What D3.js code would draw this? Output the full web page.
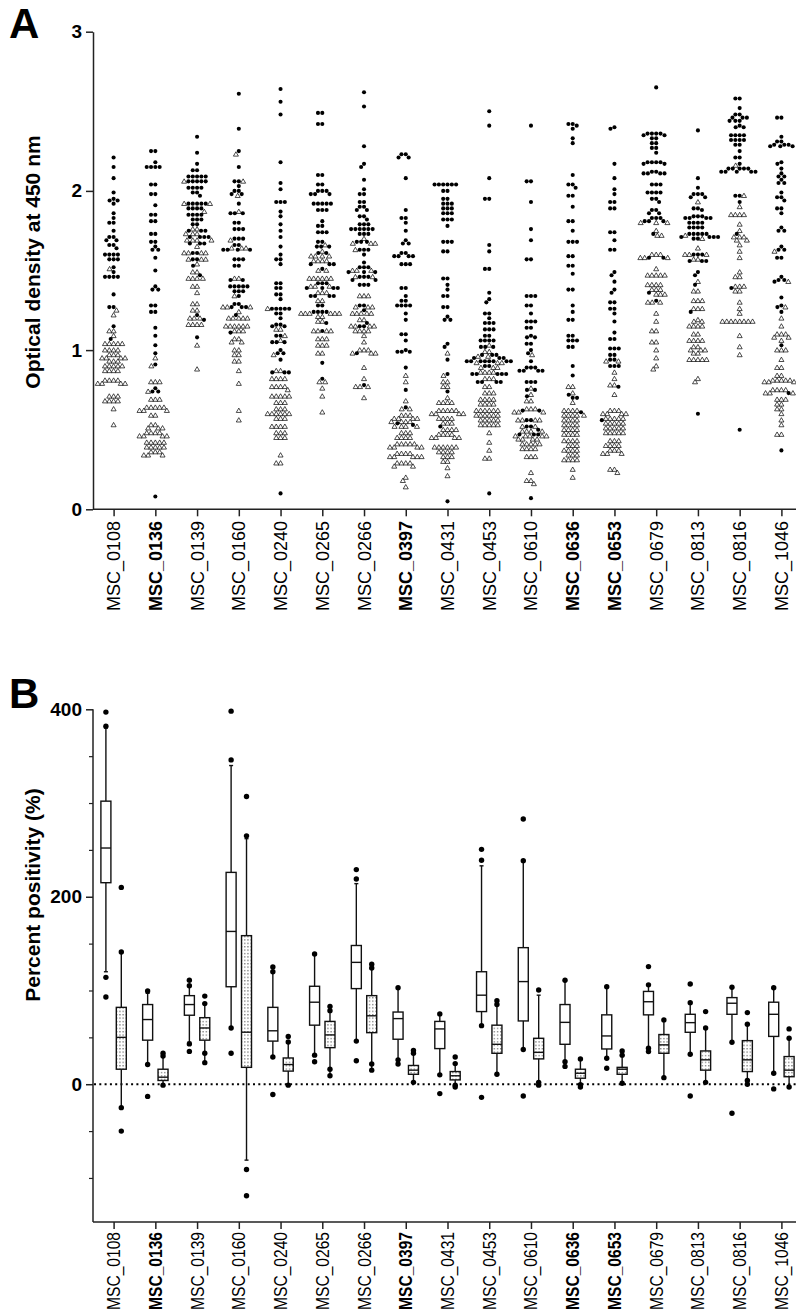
<!DOCTYPE html>
<html><head><meta charset="utf-8">
<script src="https://cdn.jsdelivr.net/npm/d3@7"></script>
<style>body{margin:0;background:#fff} svg{display:block} text{font-family:"Liberation Sans",Arial,sans-serif;fill:#000}</style>
</head><body><svg id="c" width="796" height="1313"></svg>
<script>
const categories = ["MSC_0108","MSC_0136","MSC_0139","MSC_0160","MSC_0240","MSC_0265","MSC_0266","MSC_0397","MSC_0431","MSC_0453","MSC_0610","MSC_0636","MSC_0653","MSC_0679","MSC_0813","MSC_0816","MSC_1046"];
const boldCategories = ["MSC_0136","MSC_0397","MSC_0636","MSC_0653"];

// Panel A: optical density, filled circles
const circleValues = [
 [2.21,2.15,2.08,1.99,1.95,1.94,1.94,1.92,1.86,1.83,1.80,1.80,1.75,1.71,1.71,1.69,1.69,1.66,1.66,1.64,1.60,1.60,1.60,1.60,1.57,1.57,1.57,1.52,1.49,1.46,1.46,1.46,1.46,1.35,1.27,1.27,1.15,1.07],
 [2.25,2.25,2.18,2.15,2.15,2.15,2.15,2.04,2.04,1.98,1.98,1.91,1.85,1.85,1.81,1.81,1.73,1.73,1.68,1.68,1.65,1.63,1.63,1.58,1.50,1.40,1.38,1.38,1.28,1.28,1.24,1.24,1.14,1.09,1.03,0.98,0.91,0.76,0.74,0.74,0.08],
 [2.34,2.24,2.17,2.13,2.13,2.09,2.09,2.09,2.09,2.09,2.06,2.06,2.06,2.06,2.06,2.02,2.02,2.02,2.02,1.99,1.99,1.97,1.92,1.92,1.92,1.92,1.92,1.89,1.89,1.89,1.89,1.85,1.85,1.85,1.85,1.82,1.82,1.82,1.79,1.79,1.75,1.75,1.75,1.71,1.71,1.71,1.71,1.67,1.67,1.67,1.61,1.61,1.57,1.57,1.53,1.47,1.22,1.19,1.08],
 [2.61,2.39,2.25,2.15,2.06,2.06,2.03,2.00,2.00,1.98,1.98,1.92,1.86,1.86,1.86,1.80,1.80,1.76,1.76,1.76,1.70,1.70,1.70,1.66,1.66,1.63,1.63,1.63,1.63,1.57,1.57,1.57,1.53,1.53,1.44,1.44,1.40,1.40,1.40,1.40,1.40,1.37,1.37,1.37,1.34,1.29,1.29,1.27,1.27,1.27,1.22,1.11],
 [2.64,2.56,2.48,2.18,2.05,2.01,1.93,1.93,1.93,1.87,1.84,1.79,1.75,1.71,1.65,1.60,1.57,1.57,1.54,1.42,1.42,1.39,1.39,1.35,1.35,1.32,1.26,1.26,1.26,1.26,1.26,1.23,1.23,1.20,1.16,1.16,1.15,1.15,1.09,1.09,1.05,1.05,1.05,1.00,0.98,0.98,0.94,0.86,0.86,0.86,0.10],
 [2.49,2.49,2.42,2.42,2.10,2.10,2.04,2.04,2.00,2.00,2.00,1.98,1.98,1.98,1.92,1.92,1.92,1.92,1.92,1.88,1.88,1.88,1.81,1.78,1.78,1.74,1.74,1.74,1.68,1.68,1.65,1.65,1.65,1.61,1.61,1.54,1.54,1.54,1.51,1.42,1.42,1.42,1.39,1.39,1.39,1.39,1.34,1.34,1.34,1.34,1.28,1.28,1.24,1.24,1.24,1.24,1.17,1.12,0.92,0.82],
 [2.62,2.53,2.28,2.17,2.15,2.07,2.01,1.98,1.98,1.93,1.93,1.90,1.90,1.88,1.88,1.84,1.84,1.82,1.79,1.79,1.79,1.76,1.76,1.76,1.76,1.76,1.76,1.73,1.73,1.73,1.68,1.68,1.68,1.63,1.63,1.63,1.60,1.55,1.52,1.52,1.52,1.49,1.49,1.49,1.46,1.46,1.46,1.44,1.44,1.41,1.41,1.41,1.28,1.28,1.25,1.17,1.15,1.15,0.98,0.78],
 [2.23,2.23,2.21,2.21,2.08,1.88,1.83,1.83,1.80,1.75,1.69,1.67,1.67,1.61,1.61,1.59,1.59,1.59,1.59,1.54,1.54,1.54,1.39,1.39,1.34,1.31,1.31,1.28,1.28,1.28,1.28,1.23,1.19,1.10,1.10,1.06,1.00,0.99,0.99,0.99,0.89,0.75,0.64,0.54,0.53],
 [2.04,2.04,2.04,2.04,2.04,2.04,2.00,2.00,1.95,1.95,1.92,1.92,1.92,1.89,1.89,1.89,1.86,1.86,1.86,1.82,1.82,1.82,1.78,1.68,1.68,1.68,1.62,1.62,1.45,1.45,1.41,1.38,1.34,1.34,1.27,1.27,1.21,1.19,1.19,1.04,1.02,0.94,0.85,0.74,0.52,0.05],
 [2.50,2.41,2.08,1.95,1.95,1.66,1.62,1.51,1.51,1.36,1.32,1.30,1.23,1.23,1.20,1.17,1.17,1.17,1.13,1.13,1.13,1.09,1.09,1.06,1.06,1.06,1.06,1.02,1.02,1.02,0.97,0.97,0.97,0.95,0.95,0.95,0.93,0.93,0.93,0.93,0.93,0.93,0.93,0.93,0.90,0.90,0.85,0.85,0.85,0.85,0.85,0.80,0.80,0.80,0.80,0.10],
 [2.41,2.06,2.06,1.93,1.76,1.69,1.57,1.57,1.34,1.34,1.34,1.28,1.28,1.23,1.18,1.18,1.18,1.14,1.14,1.09,1.08,1.08,1.04,1.04,1.00,0.98,0.93,0.89,0.89,0.89,0.87,0.87,0.87,0.87,0.80,0.80,0.80,0.75,0.75,0.71,0.62,0.62,0.56,0.56,0.52,0.52,0.50,0.47,0.47,0.47,0.07],
 [2.42,2.42,2.41,2.39,2.33,2.30,2.10,2.04,2.04,2.02,1.97,1.97,1.90,1.81,1.81,1.75,1.68,1.68,1.68,1.59,1.59,1.53,1.53,1.48,1.38,1.38,1.28,1.24,1.19,1.19,1.09,1.09,1.06,1.06,1.06,1.02,1.02,0.90,0.84,0.72,0.70,0.70,0.61],
 [2.40,2.39,2.17,2.08,2.01,1.98,1.93,1.93,1.89,1.89,1.74,1.74,1.69,1.63,1.63,1.49,1.47,1.43,1.38,1.36,1.30,1.30,1.26,1.26,1.23,1.18,1.11,1.07,1.07,1.01,1.01,1.01,0.97,0.97,0.94,0.94,0.90,0.90,0.90,0.77,0.56],
 [2.65,2.36,2.36,2.36,2.36,2.35,2.35,2.33,2.33,2.30,2.30,2.27,2.27,2.24,2.18,2.18,2.18,2.18,2.17,2.17,2.12,2.12,2.11,2.11,2.11,2.11,2.04,2.04,2.04,1.99,1.99,1.99,1.99,1.95,1.95,1.93,1.88,1.88,1.86,1.86,1.83,1.83,1.83,1.81,1.81,1.81,1.73,1.58,1.58,1.36,1.31],
 [2.38,2.08,2.02,1.98,1.98,1.98,1.96,1.96,1.89,1.89,1.88,1.84,1.84,1.84,1.83,1.83,1.83,1.83,1.80,1.80,1.80,1.80,1.77,1.77,1.77,1.77,1.73,1.73,1.73,1.73,1.73,1.71,1.71,1.71,1.71,1.70,1.70,1.60,1.60,1.60,1.56,1.56,1.56,1.49,1.47,1.41,1.24,0.60],
 [2.58,2.58,2.52,2.48,2.48,2.46,2.46,2.46,2.44,2.44,2.44,2.41,2.40,2.40,2.35,2.35,2.35,2.35,2.32,2.32,2.32,2.32,2.29,2.29,2.25,2.21,2.21,2.17,2.14,2.14,2.14,2.14,2.14,2.12,2.12,2.12,2.12,2.12,1.97,1.97,1.93,1.73,1.39,0.50],
 [2.46,2.46,2.34,2.31,2.31,2.29,2.29,2.29,2.28,2.28,2.28,2.18,2.17,2.14,2.11,2.09,2.09,2.07,2.05,2.05,1.99,1.96,1.96,1.94,1.89,1.89,1.86,1.77,1.75,1.75,1.65,1.63,1.63,1.58,1.58,1.46,1.44,1.44,1.43,1.33,1.28,1.27,1.24,1.03,0.73,0.37]
];
// Panel A: optical density, open triangles
const triangleValues = [
 [1.51,1.25,1.22,1.12,1.12,1.09,1.04,1.04,1.04,1.04,1.04,1.00,1.00,1.00,1.00,0.97,0.97,0.97,0.95,0.95,0.95,0.95,0.93,0.93,0.93,0.90,0.90,0.90,0.90,0.90,0.87,0.87,0.87,0.87,0.81,0.81,0.81,0.81,0.79,0.79,0.79,0.79,0.71,0.71,0.71,0.68,0.68,0.68,0.68,0.63,0.53],
 [0.95,0.90,0.80,0.80,0.80,0.74,0.69,0.69,0.69,0.64,0.64,0.64,0.64,0.64,0.62,0.62,0.62,0.59,0.59,0.53,0.53,0.51,0.51,0.51,0.48,0.48,0.48,0.48,0.46,0.46,0.46,0.46,0.42,0.42,0.42,0.42,0.42,0.39,0.39,0.39,0.39,0.39,0.36,0.36,0.36,0.34,0.34,0.34],
 [2.06,1.92,1.92,1.87,1.76,1.76,1.73,1.73,1.73,1.69,1.69,1.69,1.69,1.65,1.61,1.61,1.61,1.61,1.57,1.57,1.57,1.54,1.49,1.49,1.45,1.45,1.45,1.45,1.40,1.40,1.36,1.29,1.29,1.25,1.25,1.20,1.20,1.20,1.16,1.16,1.16,1.16,1.03,0.88],
 [2.23,2.06,1.97,1.87,1.69,1.64,1.64,1.64,1.45,1.45,1.34,1.27,1.27,1.27,1.24,1.20,1.20,1.20,1.20,1.20,1.15,1.15,1.15,1.15,1.15,1.15,1.12,1.12,1.12,1.07,1.07,1.05,1.05,1.00,1.00,0.97,0.97,0.93,0.93,0.87,0.79,0.62,0.56],
 [1.26,1.13,1.13,1.09,1.06,0.97,0.87,0.87,0.82,0.82,0.82,0.82,0.77,0.77,0.77,0.77,0.75,0.71,0.71,0.71,0.71,0.71,0.67,0.67,0.67,0.63,0.63,0.63,0.60,0.60,0.60,0.60,0.60,0.60,0.57,0.57,0.57,0.52,0.52,0.52,0.52,0.48,0.48,0.48,0.45,0.45,0.45,0.34,0.29,0.29],
 [1.66,1.62,1.59,1.59,1.59,1.59,1.56,1.56,1.56,1.56,1.50,1.50,1.45,1.45,1.45,1.45,1.45,1.45,1.40,1.40,1.40,1.36,1.36,1.36,1.31,1.31,1.23,1.23,1.23,1.23,1.23,1.23,1.21,1.21,1.18,1.18,1.12,1.12,1.12,1.12,1.07,1.07,1.07,1.03,1.03,1.03,0.98,0.98,0.80,0.80,0.76,0.71,0.61],
 [1.70,1.67,1.67,1.67,1.63,1.50,1.50,1.50,1.46,1.46,1.34,1.34,1.34,1.27,1.27,1.27,1.23,1.23,1.23,1.23,1.23,1.19,1.19,1.15,1.15,1.15,1.15,1.12,1.12,1.12,1.12,1.09,1.05,1.00,1.00,1.00,0.98,0.98,0.98,0.89,0.82,0.77,0.77,0.77,0.70],
 [0.84,0.80,0.68,0.63,0.63,0.59,0.59,0.59,0.57,0.57,0.57,0.57,0.55,0.55,0.55,0.55,0.52,0.52,0.52,0.52,0.48,0.48,0.48,0.45,0.45,0.45,0.45,0.41,0.41,0.41,0.41,0.41,0.39,0.39,0.39,0.39,0.35,0.35,0.35,0.35,0.33,0.33,0.33,0.33,0.33,0.29,0.29,0.29,0.29,0.27,0.27,0.20,0.18,0.14],
 [0.98,0.84,0.80,0.80,0.77,0.77,0.70,0.67,0.67,0.67,0.67,0.62,0.62,0.62,0.62,0.62,0.60,0.60,0.60,0.60,0.57,0.57,0.57,0.57,0.54,0.54,0.54,0.50,0.50,0.50,0.50,0.47,0.47,0.47,0.47,0.45,0.45,0.45,0.45,0.39,0.39,0.39,0.39,0.39,0.39,0.36,0.36,0.36,0.36,0.33,0.33,0.33,0.30,0.30,0.26,0.21],
 [1.03,0.99,0.99,0.96,0.96,0.92,0.92,0.92,0.89,0.89,0.89,0.86,0.86,0.86,0.86,0.82,0.82,0.82,0.77,0.77,0.73,0.73,0.73,0.69,0.69,0.69,0.69,0.66,0.66,0.66,0.66,0.62,0.62,0.62,0.62,0.62,0.62,0.59,0.59,0.59,0.59,0.59,0.59,0.56,0.56,0.56,0.56,0.56,0.53,0.53,0.53,0.53,0.53,0.48,0.42,0.37,0.32,0.32],
 [0.97,0.76,0.72,0.68,0.68,0.63,0.63,0.63,0.61,0.61,0.61,0.56,0.56,0.56,0.56,0.52,0.52,0.49,0.49,0.49,0.49,0.46,0.46,0.46,0.46,0.46,0.44,0.44,0.44,0.44,0.41,0.41,0.41,0.41,0.41,0.38,0.38,0.38,0.38,0.33,0.33,0.33,0.23,0.18,0.18,0.16],
 [0.77,0.77,0.73,0.67,0.62,0.62,0.62,0.62,0.59,0.59,0.59,0.59,0.59,0.56,0.56,0.56,0.56,0.53,0.53,0.53,0.53,0.50,0.50,0.50,0.50,0.47,0.47,0.47,0.47,0.43,0.43,0.43,0.43,0.40,0.40,0.40,0.37,0.37,0.37,0.37,0.34,0.34,0.34,0.31,0.31,0.31,0.31,0.25,0.20],
 [0.93,0.93,0.86,0.82,0.78,0.78,0.72,0.62,0.62,0.62,0.60,0.60,0.60,0.60,0.57,0.57,0.57,0.57,0.57,0.54,0.54,0.54,0.54,0.54,0.51,0.51,0.51,0.51,0.51,0.48,0.48,0.48,0.48,0.48,0.43,0.43,0.43,0.40,0.40,0.40,0.40,0.37,0.37,0.37,0.35,0.35,0.35,0.25,0.25,0.23],
 [1.80,1.80,1.80,1.75,1.72,1.72,1.60,1.60,1.60,1.58,1.58,1.58,1.51,1.47,1.47,1.47,1.47,1.47,1.41,1.41,1.41,1.41,1.38,1.38,1.38,1.35,1.35,1.35,1.30,1.30,1.30,1.23,1.18,1.12,1.12,1.05,1.05,1.00,0.95,0.90,0.88],
 [1.93,1.72,1.70,1.64,1.60,1.60,1.60,1.57,1.57,1.43,1.37,1.37,1.31,1.31,1.31,1.26,1.26,1.26,1.19,1.18,1.18,1.15,1.15,1.15,1.15,1.10,1.10,1.06,1.06,1.06,1.06,1.02,1.02,1.00,1.00,1.00,0.98,0.98,0.94,0.94,0.94,0.94,0.94,0.82,0.80],
 [2.16,1.97,1.90,1.85,1.85,1.85,1.85,1.79,1.75,1.71,1.71,1.71,1.69,1.69,1.66,1.62,1.58,1.49,1.46,1.46,1.40,1.40,1.40,1.37,1.37,1.30,1.26,1.23,1.18,1.18,1.18,1.18,1.18,1.18,1.18,1.18,1.09,1.02,0.97],
 [1.62,1.43,1.27,1.20,1.15,1.10,1.10,1.10,1.08,1.08,1.06,1.00,1.00,1.00,0.94,0.89,0.89,0.84,0.84,0.81,0.81,0.81,0.81,0.81,0.80,0.80,0.80,0.75,0.75,0.75,0.75,0.73,0.73,0.73,0.69,0.69,0.69,0.66,0.66,0.63,0.63,0.60,0.56,0.53,0.47,0.47]
];
const odTicks = [0, 1, 2, 3];

// Panel B: percent positivity box plots [whiskerLow, q1, median, q3, whiskerHigh]
const openBoxStats = [
 [120,215,252,302,380],[21,47,69,85,97],[45,73.6,85,94.5,105],[60,104,163,226,340],[29,46,57,82,120],
 [31,63,87.5,104.5,139],[46,102,130,148,214],[26,48,70,77,103],[10,38,59,67,75],[62.5,77.5,95,120,233],
 [37,67.5,109.5,145.7,238.5],[24,42.6,66,85,111],[27.7,37.6,51.5,74,104],[38.4,74,88,99,106],
 [32,55.4,65.7,74.6,87],[44.8,74.6,86.4,92.4,103.5],[11.7,51,74.6,87.5,103]
];
const openBoxOutliers = [
 [397,382,114,93],[99.5,21,-13],[111,105,43,35],[398,346,60,33],[125,120,29,-11],
 [139,31,24],[229,219,46,25],[103,26,21.6],[75,10,-10],[250.6,239,62.5,-14],
 [283,238.5,37,-12.5],[111,24,19],[104,27.7,17],[125.5,106,38.4,34.8],
 [107,87,32,-12.5],[103.5,44.8,-31],[103,11.7,-5]
];
const dottedBoxStats = [
 [-25,16,50,82,141],[-1,4,7.5,16,29],[23,47,60,71,86],[-81,18,55.5,158.5,262],[-1,14,21,28,45],
 [9,39,52.6,67,78.5],[15,55,73,94.5,124],[2,10.6,15,20,33],[-1,4.6,9,13.5,22],[10.6,33,42.6,63,85],
 [-1,27,34,49,95],[-0.6,6.4,11.7,16,27],[1,10.6,16,18,31],[7,33,42,53,68.6],
 [2,15,26,35.5,60],[0,13.5,26,46.5,64],[-3,8,15,29.5,49]
];
const dottedBoxOutliers = [
 [210,141,-25,-50],[33,30,-1],[94,86,33,23],[307,265,-91,-119],[51,45,-1],
 [83,78.5,16,9],[128,124,21.6,15],[36,33,2],[29,22,-1,-3],[89,85,10.6],
 [100.6,2,-1],[27,-0.6,-3],[35.5,31,1],[68.6,7],
 [77.5,60,2],[76.4,64,4,0],[59,49,-3]
];
const pctLabelTicks = [0, 200, 400];
const pctMinorTicks = [-100, -50, 50, 100, 150, 250, 300, 350];

const svg = d3.select("#c");
const FONT = '"Liberation Sans", Arial, sans-serif';
const AXL = 93, AXR = 796;

// ---------- Panel A ----------
const xA = d3.scalePoint().domain(categories).range([113.6, 781.4]);
const yA = d3.scaleLinear().domain([0, 3]).range([509.3, 31.7]);

const gA = svg.append("g");
const yAxisA = d3.axisLeft(yA).tickValues(odTicks).tickFormat(d3.format("d")).tickSize(7).tickSizeOuter(0).tickPadding(4);
gA.append("g").attr("transform", `translate(${AXL},0)`).call(yAxisA)
  .call(g => { g.select(".domain").attr("stroke", "#222").attr("stroke-width", 1.5);
               g.selectAll(".tick line").attr("stroke", "#222").attr("stroke-width", 1.5);
               g.selectAll("text").attr("font-family", FONT).attr("font-weight", "bold").attr("font-size", 19).attr("fill", "#000"); });
gA.append("line").attr("x1", AXL).attr("x2", AXR).attr("y1", yA(0)).attr("y2", yA(0)).attr("stroke", "#222").attr("stroke-width", 1.5);
gA.append("g").attr("transform", `translate(0,${yA(0)})`).call(d3.axisBottom(xA).tickSize(7).tickFormat(""))
  .call(g => { g.select(".domain").remove(); g.selectAll(".tick line").attr("stroke", "#222").attr("stroke-width", 1.5); });

function catLabels(g, x, yTop, size, len) {
  const t = g.selectAll("text.cat").data(categories).join("text").attr("class", "cat")
    .attr("transform", d => `translate(${x(d)},${yTop}) rotate(-90)`)
    .attr("text-anchor", "end").attr("dy", "0.36em")
    .attr("font-family", FONT).attr("font-size", size)
    .attr("font-weight", d => boldCategories.includes(d) ? "bold" : "normal")
    .text(d => d);
  if (len) t.attr("textLength", len).attr("lengthAdjust", "spacingAndGlyphs");
}
catLabels(gA, xA, 521, 18, 90);

gA.append("text").attr("transform", `translate(40,262) rotate(-90)`)
  .attr("text-anchor", "middle").attr("font-family", FONT).attr("font-weight", "bold").attr("font-size", 21)
  .text("Optical density at 450 nm");
svg.append("text").attr("x", 9).attr("y", 38).attr("font-family", FONT).attr("font-weight", "bold").attr("font-size", 42).text("A");

// beeswarm placement
const D = 4.3;
function swarm(points, cx) {
  const placed = [];
  points.sort((a, b) => b.v - a.v);
  for (const p of points) {
    const y = yA(p.v);
    const near = placed.filter(q => Math.abs(q.y - y) < D);
    const cands = [cx];
    for (const q of near) {
      const w = Math.sqrt(D * D - (q.y - y) ** 2);
      cands.push(q.x - w - 0.01, q.x + w + 0.01);
    }
    cands.sort((a, b) => Math.abs(a - cx) - Math.abs(b - cx));
    let best = cx;
    for (const c of cands) {
      if (near.every(q => (q.x - c) ** 2 + (q.y - y) ** 2 >= D * D - 0.01)) { best = c; break; }
    }
    placed.push({ x: best, y, t: p.t });
  }
  return placed;
}
const tri = d3.symbol().type(d3.symbolTriangle).size(11);
categories.forEach((cat, i) => {
  const pts = circleValues[i].map(v => ({ v, t: "c" })).concat(triangleValues[i].map(v => ({ v, t: "t" })));
  const placed = swarm(pts, xA(cat));
  gA.append("g").selectAll("path").data(placed.filter(d => d.t === "t")).join("path")
    .attr("d", tri).attr("transform", d => `translate(${d.x},${d.y + 0.4})`)
    .attr("fill", "#fff").attr("stroke", "#000").attr("stroke-width", 0.7);
  gA.append("g").selectAll("circle").data(placed.filter(d => d.t === "c")).join("circle")
    .attr("cx", d => d.x).attr("cy", d => d.y).attr("r", 2.05).attr("fill", "#000");
});

// ---------- Panel B ----------
const xB = d3.scalePoint().domain(categories).range([113.6, 781.4]);
const yB = d3.scaleLinear().domain([-147, 400]).range([1222, 709.3]);
const gB = svg.append("g");

const defs = svg.append("defs");
const pat = defs.append("pattern").attr("id", "dots").attr("patternUnits", "userSpaceOnUse").attr("width", 3.2).attr("height", 3.4);
pat.append("rect").attr("width", 3.2).attr("height", 3.4).attr("fill", "#fff");
pat.append("rect").attr("x", 1).attr("y", 1).attr("width", 1.1).attr("height", 1.1).attr("fill", "#444");

gB.append("line").attr("x1", AXL).attr("x2", AXL).attr("y1", yB(400)).attr("y2", yB(-147)).attr("stroke", "#222").attr("stroke-width", 1.5);
gB.append("line").attr("x1", AXL).attr("x2", AXR).attr("y1", yB(-147)).attr("y2", yB(-147)).attr("stroke", "#222").attr("stroke-width", 1.5);
gB.append("g").attr("transform", `translate(${AXL},0)`).call(d3.axisLeft(yB).tickValues(pctLabelTicks).tickSize(7).tickPadding(4))
  .call(g => { g.select(".domain").remove();
               g.selectAll(".tick line").attr("stroke", "#222").attr("stroke-width", 1.5);
               g.selectAll("text").attr("font-family", FONT).attr("font-weight", "bold").attr("font-size", 19).attr("fill", "#000"); });
gB.append("g").attr("transform", `translate(${AXL},0)`).call(d3.axisLeft(yB).tickValues(pctMinorTicks).tickSize(4).tickFormat(""))
  .call(g => { g.select(".domain").remove(); g.selectAll(".tick line").attr("stroke", "#222").attr("stroke-width", 1.2); });
gB.append("g").attr("transform", `translate(0,${yB(-147)})`).call(d3.axisBottom(xB).tickSize(7).tickFormat(""))
  .call(g => { g.select(".domain").remove(); g.selectAll(".tick line").attr("stroke", "#222").attr("stroke-width", 1.5); });
catLabels(gB, xB, 1232, 18, 78);

gB.append("line").attr("x1", AXL + 1).attr("x2", AXR).attr("y1", yB(0)).attr("y2", yB(0))
  .attr("stroke", "#000").attr("stroke-width", 2).attr("stroke-dasharray", "2,3.3");

gB.append("text").attr("transform", `translate(40,895) rotate(-90)`)
  .attr("text-anchor", "middle").attr("font-family", FONT).attr("font-weight", "bold").attr("font-size", 21)
  .text("Percent positivity (%)");
svg.append("text").attr("x", 9).attr("y", 708).attr("font-family", FONT).attr("font-weight", "bold").attr("font-size", 42).text("B");

const BW = 10;
function drawBoxes(stats, outliers, offset, fill) {
  categories.forEach((cat, i) => {
    const [lo, q1, md, q3, hi] = stats[i];
    const cx = xB(cat) + offset;
    const g = gB.append("g").attr("stroke", "#111").attr("stroke-width", 1.4);
    g.append("line").attr("x1", cx).attr("x2", cx).attr("y1", yB(q3)).attr("y2", yB(hi));
    g.append("line").attr("x1", cx).attr("x2", cx).attr("y1", yB(q1)).attr("y2", yB(lo));
    g.append("line").attr("x1", cx - 2).attr("x2", cx + 2).attr("y1", yB(hi)).attr("y2", yB(hi));
    g.append("line").attr("x1", cx - 2).attr("x2", cx + 2).attr("y1", yB(lo)).attr("y2", yB(lo));
    g.append("rect").attr("x", cx - BW / 2).attr("width", BW).attr("y", yB(q3)).attr("height", yB(q1) - yB(q3)).attr("fill", fill);
    g.append("line").attr("x1", cx - BW / 2).attr("x2", cx + BW / 2).attr("y1", yB(md)).attr("y2", yB(md));
    gB.append("g").selectAll("circle").data(outliers[i]).join("circle")
      .attr("cx", cx).attr("cy", d => yB(d)).attr("r", 2.7).attr("fill", "#000");
  });
}
drawBoxes(openBoxStats, openBoxOutliers, -7.7, "#fff");
drawBoxes(dottedBoxStats, dottedBoxOutliers, 7.7, "url(#dots)");
</script></body></html>
